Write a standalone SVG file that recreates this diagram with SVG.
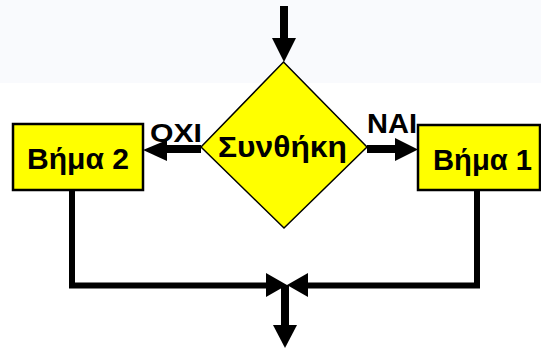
<svg xmlns="http://www.w3.org/2000/svg" width="541" height="349" viewBox="0 0 541 349">
<style>
.box{fill:#ffff00;stroke:#000;stroke-width:2.5}
.dia{fill:#ffff00;stroke:#000;stroke-width:1.5}
.t{font-family:"Liberation Sans",Arial,sans-serif;font-weight:bold;fill:#000}
.ln{stroke:#000;fill:none}
.ah{fill:#000;stroke:none}
</style>
<rect x="0" y="0" width="541" height="83" fill="#f9fafd"/>
<g id="connectors">
  <line class="ln" x1="284" y1="6" x2="284" y2="40" stroke-width="8"/>
  <polygon class="ah" points="272,38 296,38 284,62"/>
  <line class="ln" x1="201" y1="149" x2="164" y2="149" stroke-width="8"/>
  <polygon class="ah" points="167,140 167,161 143,150"/>
  <line class="ln" x1="367" y1="149" x2="397" y2="149" stroke-width="8"/>
  <polygon class="ah" points="395,138 395,161 418,149.5"/>
  <polyline class="ln" points="72,190 72,285.5 268,285.5" stroke-width="6"/>
  <polyline class="ln" points="477,190 477,285.5 306,285.5" stroke-width="6"/>
  <polygon class="ah" points="266,273 266,297 287,285"/>
  <polygon class="ah" points="308,273 308,297 287,285"/>
  <line class="ln" x1="285" y1="285" x2="285" y2="327" stroke-width="8"/>
  <polygon class="ah" points="273,325 297,325 285,348"/>
  <text class="t" x="150" y="142" font-size="26" textLength="52" lengthAdjust="spacingAndGlyphs">ΟΧΙ</text>
  <text class="t" x="367" y="133" font-size="28" textLength="50" lengthAdjust="spacingAndGlyphs">ΝΑΙ</text>
</g>
<g id="condition">
  <polygon class="dia" points="283.5,62 367,147 284,228 201,147"/>
  <text class="t" x="218" y="157" font-size="30" textLength="129" lengthAdjust="spacingAndGlyphs">Συνθήκη</text>
</g>
<g id="step2">
  <rect class="box" x="13" y="124" width="130" height="66"/>
  <text class="t" x="27" y="169" font-size="29" textLength="102" lengthAdjust="spacingAndGlyphs">Βήμα 2</text>
</g>
<g id="step1">
  <rect class="box" x="418" y="125" width="122" height="65"/>
  <text class="t" x="433" y="170" font-size="29" textLength="99" lengthAdjust="spacingAndGlyphs">Βήμα 1</text>
</g>
</svg>
